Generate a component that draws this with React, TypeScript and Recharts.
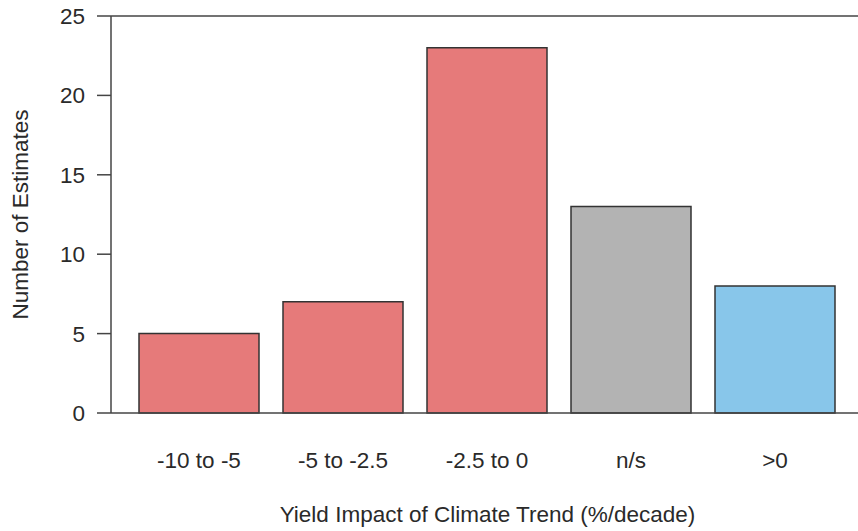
import React from "react";
import {
  BarChart,
  Bar,
  XAxis,
  YAxis,
  Cell,
  ReferenceLine,
} from "recharts";

const categories = ["-10 to -5", "-5 to -2.5", "-2.5 to 0", "n/s", ">0"];
const estimates = [5, 7, 23, 13, 8];
const barColors = ["#e67a7a", "#e67a7a", "#e67a7a", "#b3b3b3", "#88c6ea"];
const yTicks = [0, 5, 10, 15, 20, 25];

const data = categories.map((name, i) => ({ name, count: estimates[i] }));

const FONT = "'Liberation Sans', Arial, Helvetica, sans-serif";
const AXIS = "#444";
const TEXT = "#2a2a2a";

// rotated y axis title, centred on the plot height
function YTitle(props: any) {
  const vb = props.viewBox || {};
  const cy = vb.y + vb.height / 2;
  const x = 28;
  return (
    <text
      x={x}
      y={cy}
      transform={`rotate(-90, ${x}, ${cy})`}
      textAnchor="middle"
      fontSize={22.5}
      fontFamily={FONT}
      fill={TEXT}
    >
      Number of Estimates
    </text>
  );
}

export default function App() {
  return (
    <div style={{ position: "absolute", left: 0, top: 0, background: "#fff" }}>
      <BarChart
        width={858}
        height={531}
        data={data}
        margin={{ top: 16, right: 0, bottom: 0, left: 0 }}
      >
        <XAxis
          dataKey="name"
          height={118}
          padding={{ left: 16, right: 11 }}
          tickLine={false}
          tickSize={0}
          tickMargin={39}
          axisLine={{ stroke: AXIS, strokeWidth: 1.5 }}
          tick={{ fontSize: 22.5, fontFamily: FONT, fill: TEXT }}
          interval={0}
          label={{
            value: "Yield Impact of Climate Trend (%/decade)",
            position: "insideBottom",
            offset: 9,
            dx: 3,
            fontSize: 22.5,
            fontFamily: FONT,
            fill: TEXT,
          }}
        />
        <YAxis
          width={111}
          domain={[0, 25]}
          ticks={yTicks}
          interval={0}
          tickSize={14}
          tickMargin={12}
          axisLine={{ stroke: AXIS, strokeWidth: 1.5 }}
          tickLine={{ stroke: AXIS, strokeWidth: 1.5 }}
          tick={{ fontSize: 22.5, fontFamily: FONT, fill: TEXT }}
          label={<YTitle />}
        />
        <ReferenceLine y={25} stroke={AXIS} strokeWidth={1.5} />
        <Bar
          dataKey="count"
          barSize={120}
          stroke="#333"
          strokeWidth={1.5}
          isAnimationActive={false}
        >
          {data.map((d, i) => (
            <Cell key={d.name} fill={barColors[i]} />
          ))}
        </Bar>
      </BarChart>
    </div>
  );
}
